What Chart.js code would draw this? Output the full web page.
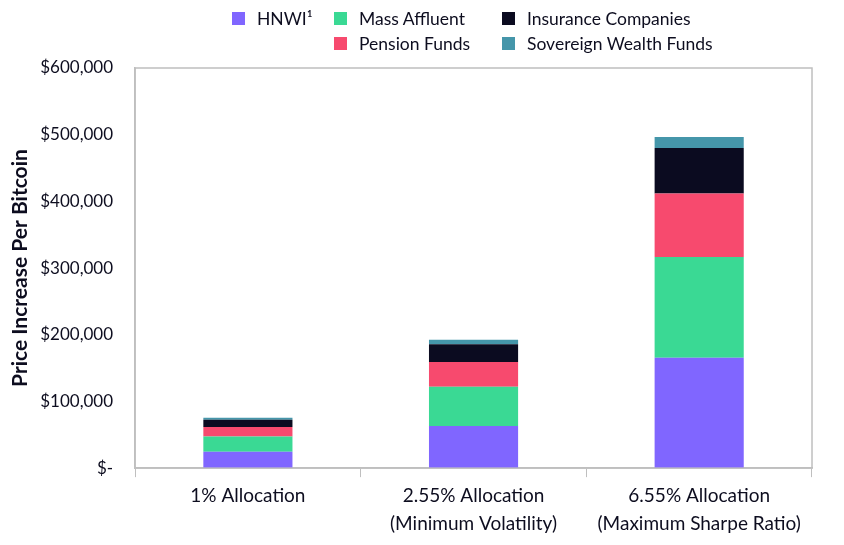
<!DOCTYPE html>
<html>
<head>
<meta charset="utf-8">
<script src="https://cdn.jsdelivr.net/npm/chart.js@4.4.1/dist/chart.umd.min.js"></script>
<style>
  html, body { margin: 0; padding: 0; background: #fff; }
  #wrap { position: relative; width: 844px; height: 545px; }
  #legend {
    position: absolute; left: 232px; top: 9px;
    display: grid; grid-template-columns: 102px 168px 220px; row-gap: 7px;
    font-family: Lato, "Open Sans", sans-serif; font-size: 17.5px; color: #0d0d1f;
  }
  #legend .item { display: flex; align-items: center; height: 18px; white-space: nowrap; }
  #legend .box { width: 13px; height: 13px; margin-right: 12px; flex: none; }
</style>
</head>
<body>
<div id="wrap">
  <canvas id="chart" width="844" height="545"></canvas>
  <div id="legend"></div>
</div>
<script>
const categories = [["1% Allocation"], ["2.55% Allocation", "(Minimum Volatility)"], ["6.55% Allocation", "(Maximum Sharpe Ratio)"]];
const hnwi = [24600, 63300, 165400];
const mass_affluent = [23000, 58800, 151300];
const pension_funds = [14200, 37200, 95000];
const insurance_companies = [10600, 26500, 68300];
const sovereign_wealth = [3000, 6600, 16600];
const y_ticks = [0, 100000, 200000, 300000, 400000, 500000, 600000];

const text_color = "#0d0d1f";
const line_color = "#bfbfbf";

const datasets = [
    { label: "HNWI\u00B9", data: hnwi, backgroundColor: "#8066ff" },
    { label: "Mass Affluent", data: mass_affluent, backgroundColor: "#3ad994" },
    { label: "Pension Funds", data: pension_funds, backgroundColor: "#f74a6e" },
    { label: "Insurance Companies", data: insurance_companies, backgroundColor: "#0b0b20" },
    { label: "Sovereign Wealth Funds", data: sovereign_wealth, backgroundColor: "#4596aa" }
];

// legend laid out like the original: 3 columns, 2 rows
const legend_order = [0, 1, 3, null, 2, 4];
const legend_el = document.querySelector("#legend");
for (let i of legend_order) {
    let item = document.createElement("div");
    item.className = "item";
    if (i !== null) {
        let box = document.createElement("span");
        box.className = "box";
        box.style.background = datasets[i].backgroundColor;
        let lbl = document.createElement("span");
        lbl.innerText = datasets[i].label;
        item.appendChild(box);
        item.appendChild(lbl);
    }
    legend_el.appendChild(item);
}

const frame_plugin = {
    id: "frame",
    afterDraw(chart) {
        const a = chart.chartArea;
        const ctx = chart.ctx;
        ctx.save();
        ctx.strokeStyle = line_color;
        ctx.lineWidth = 1.5;
        ctx.strokeRect(a.left, a.top, a.right - a.left, a.bottom - a.top);
        ctx.restore();
    }
};

Chart.defaults.font.family = "Lato, 'Open Sans', sans-serif";
Chart.defaults.color = text_color;

const ctx = document.getElementById("chart").getContext("2d");
const myChart = new Chart(ctx, {
    type: "bar",
    data: {
        labels: categories,
        datasets: datasets.map((d) => ({ ...d, borderWidth: 0, categoryPercentage: 1, barPercentage: 0.395 }))
    },
    options: {
        responsive: false,
        animation: false,
        layout: { padding: { top: 68, right: 32, left: 8, bottom: 2 } },
        plugins: {
            legend: { display: false },
            tooltip: { enabled: false }
        },
        scales: {
            x: {
                stacked: true,
                grid: { offset: true, drawOnChartArea: false, tickLength: 9, color: line_color },
                border: { color: line_color, width: 1.5 },
                ticks: { font: { size: 19, lineHeight: 1.47 }, padding: 5, maxRotation: 0 }
            },
            y: {
                stacked: true,
                min: 0,
                max: 600000,
                afterBuildTicks: (axis) => { axis.ticks = y_ticks.map((v) => ({ value: v })); },
                grid: { display: false },
                border: { color: line_color, width: 1.5 },
                ticks: {
                    font: { size: 17 },
                    padding: 14,
                    callback: (v) => v === 0 ? "$-" : "$" + v.toLocaleString("en-US")
                },
                title: {
                    display: true,
                    text: "Price Increase Per Bitcoin",
                    font: { size: 21, weight: "bold" },
                    padding: { top: 0, bottom: -7 }
                }
            }
        }
    },
    plugins: [frame_plugin]
});
</script>
</body>
</html>
